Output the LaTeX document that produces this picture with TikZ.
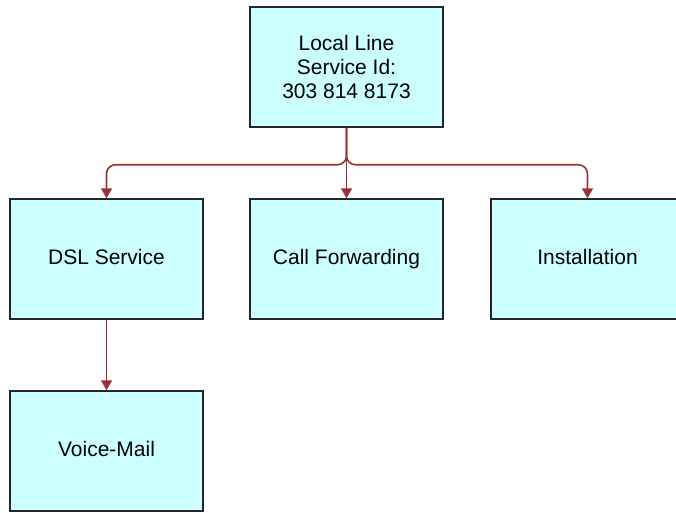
\documentclass[tikz,border=0pt]{standalone}
\usepackage{fontspec}
\setmainfont{Liberation Sans}
\usepackage{tikz}
\usetikzlibrary{arrows.meta}
\definecolor{boxfill}{HTML}{CCFFFF}
\definecolor{linkred}{HTML}{993333}

\begin{document}
\begin{tikzpicture}[x=1pt, y=-1pt]
\tikzset{svc/.style={draw=black!85, fill=boxfill, line width=1.5pt, minimum width=193pt, minimum height=120pt, align=center, font=\fontsize{21}{24}\selectfont},
 one/.style={text height=15pt, text depth=4.5pt},
 link/.style={draw=linkred, line width=1.6pt, rounded corners=9pt, -{Triangle[width=11pt,length=10pt]}}}
\useasboundingbox (0,0) rectangle (676,512);
 \node[svc] (local) at (346.5,67) {Local Line\\Service Id:\\303 814 8173};
 \node[svc, one] (dsl) at (106.5,259) {DSL Service};
 \node[svc, one] (callfwd) at (346.5,259) {Call Forwarding};
 \node[svc, one] (install) at (587.5,259) {Installation};
 \node[svc, one] (vmail) at (106.5,451) {Voice-Mail};
 \draw [link] (local.south) -- ++(0,37) -| (dsl.north);
 \draw [link] (local.south) -- (callfwd.north);
 \draw [link] (local.south) -- ++(0,37) -| (install.north);
 \draw [link] (dsl.south) -- (vmail.north);
\end{tikzpicture}
\end{document}
